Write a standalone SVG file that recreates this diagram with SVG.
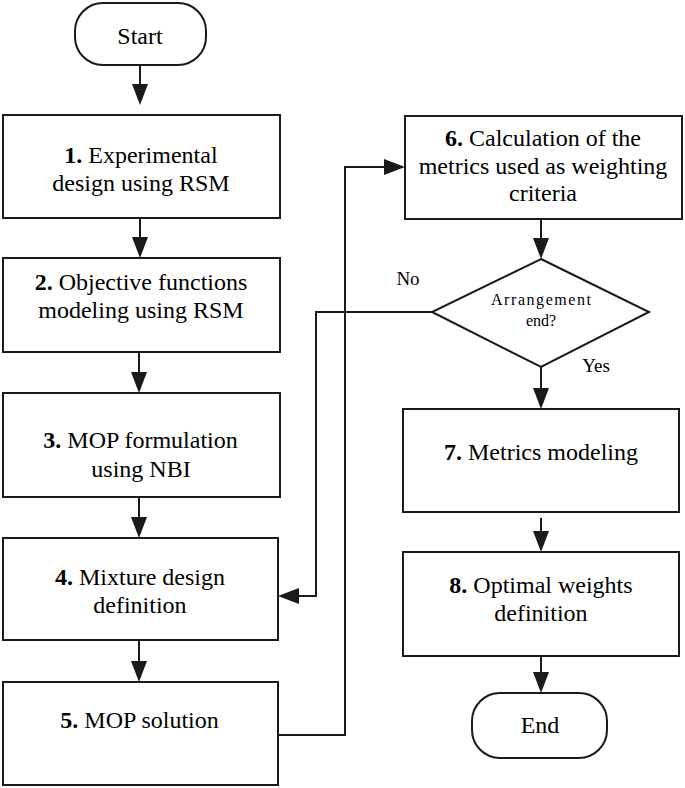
<svg xmlns="http://www.w3.org/2000/svg" width="685" height="788" viewBox="0 0 685 788">
<style>
.box{fill:#fff;stroke:#1a1a1a;stroke-width:2}
.c{fill:none;stroke:#1a1a1a;stroke-width:2}
</style>
<defs>
<marker id="ah" markerUnits="userSpaceOnUse" markerWidth="22" markerHeight="18" refX="17" refY="8" orient="auto">
<path d="M0,0 L21,8 L0,16 z" fill="#1a1a1a"/>
</marker>
</defs>
<rect width="685" height="788" fill="#fff"/>
<g id="start"><rect class="box" x="75" y="3" width="131" height="62" rx="28"/><text x="117.3" y="44" font-size="24" font-family="Liberation Serif">Start</text></g>
<g id="n1"><rect class="box" x="3" y="115" width="277" height="103"/><text x="64.3" y="163" font-size="24" font-family="Liberation Serif"><tspan font-weight="bold">1.</tspan> Experimental</text><text x="52.3" y="191" font-size="24" font-family="Liberation Serif">design using RSM</text></g>
<g id="n2"><rect class="box" x="3" y="258" width="277" height="94"/><text x="34.7" y="290" font-size="24" font-family="Liberation Serif"><tspan font-weight="bold">2.</tspan> Objective functions</text><text x="38.3" y="318" font-size="24" font-family="Liberation Serif">modeling using RSM</text></g>
<g id="n3"><rect class="box" x="3" y="393" width="277" height="104"/><text x="43.3" y="448" font-size="24" font-family="Liberation Serif"><tspan font-weight="bold">3.</tspan> MOP formulation</text><text x="91.3" y="477" font-size="24" font-family="Liberation Serif">using NBI</text></g>
<g id="n4"><rect class="box" x="3" y="538" width="275" height="102"/><text x="55" y="585" font-size="24" font-family="Liberation Serif"><tspan font-weight="bold">4.</tspan> Mixture design</text><text x="93.3" y="613" font-size="24" font-family="Liberation Serif">definition</text></g>
<g id="n5"><rect class="box" x="3" y="682" width="275" height="103"/><text x="60.3" y="728" font-size="24" font-family="Liberation Serif"><tspan font-weight="bold">5.</tspan> MOP solution</text></g>
<g id="n6"><rect class="box" x="405" y="116" width="277" height="103"/><text x="445" y="146" font-size="24" font-family="Liberation Serif"><tspan font-weight="bold">6.</tspan> Calculation of the</text><text x="418.7" y="174" font-size="24" font-family="Liberation Serif">metrics used as weighting</text><text x="509" y="201" font-size="24" font-family="Liberation Serif">criteria</text></g>
<g id="d1"><polygon class="box" points="541,259 649,312 541,367 432,312"/><text x="491" y="305" font-size="16" font-family="Liberation Serif" textLength="100" lengthAdjust="spacing">Arrangement</text><text x="525.9" y="326" font-size="16" font-family="Liberation Serif">end?</text></g>
<g id="n7"><rect class="box" x="403" y="409" width="276" height="103"/><text x="444" y="460" font-size="24" font-family="Liberation Serif"><tspan font-weight="bold">7.</tspan> Metrics modeling</text></g>
<g id="n8"><rect class="box" x="403" y="552" width="276" height="104"/><text x="449.3" y="593" font-size="24" font-family="Liberation Serif"><tspan font-weight="bold">8.</tspan> Optimal weights</text><text x="494.3" y="621" font-size="24" font-family="Liberation Serif">definition</text></g>
<g id="end"><rect class="box" x="472" y="693" width="135" height="65" rx="28"/><text x="520.7" y="733" font-size="24" font-family="Liberation Serif">End</text></g>
<g id="labels"><text x="396.4" y="285" font-size="19" font-family="Liberation Serif">No</text><text x="582.2" y="372" font-size="19" font-family="Liberation Serif">Yes</text></g>
<g id="connectors">
<path class="c" d="M140,65 V101" marker-end="url(#ah)"/>
<path class="c" d="M140,218 V254" marker-end="url(#ah)"/>
<path class="c" d="M139,352 V389" marker-end="url(#ah)"/>
<path class="c" d="M139,497 V534" marker-end="url(#ah)"/>
<path class="c" d="M139,640 V678" marker-end="url(#ah)"/>
<path class="c" d="M278,735 H345 V167 H401" marker-end="url(#ah)"/>
<path class="c" d="M432,312 H316 V596 H282" marker-end="url(#ah)"/>
<path class="c" d="M541,219 V255" marker-end="url(#ah)"/>
<path class="c" d="M541,367 V405" marker-end="url(#ah)"/>
<path class="c" d="M541,518 V548" marker-end="url(#ah)"/>
<path class="c" d="M541,656 V689" marker-end="url(#ah)"/>
</g>
</svg>
